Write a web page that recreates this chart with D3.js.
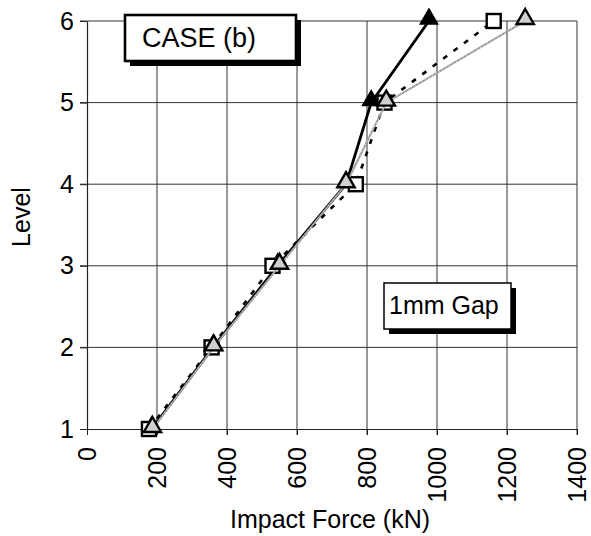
<!DOCTYPE html>
<html>
<head>
<meta charset="utf-8">
<script src="https://cdn.jsdelivr.net/npm/d3@7"></script>
<style>
  body { margin: 0; background: #fff; }
  svg { display: block; }
  text { font-family: "Liberation Sans", Arial, sans-serif; fill: #000; }
</style>
</head>
<body>
<svg id="chart" width="591" height="536"></svg>
<script>
// data
const levels = [1, 2, 3, 4, 5, 6];
const solidTri = [185, 360, 545, 740, 812, 977];     // solid line, filled triangles
const openSq = [177, 356, 530, 768, 850, 1162];      // dashed line, open squares
const grayTri = [187, 362, 550, 740, 855, 1252];     // gray line, gray triangles
const xTicks = [0, 200, 400, 600, 800, 1000, 1200, 1400];
const yTicks = [1, 2, 3, 4, 5, 6];

const svg = d3.select("#chart");
const plotL = 87, plotT = 21, plotR = 577, plotB = 429;

const x = d3.scaleLinear().domain([0, 1400]).range([plotL, plotR]);
const y = d3.scaleLinear().domain([1, 6]).range([plotB, plotT]);

// grid
svg.append("g").selectAll("line.v").data(xTicks.slice(1)).join("line")
    .attr("x1", d => x(d)).attr("x2", d => x(d))
    .attr("y1", plotT).attr("y2", plotB + 6)
    .attr("stroke", "#333").attr("stroke-width", 1);
svg.append("g").selectAll("line.h").data(yTicks.slice(1)).join("line")
    .attr("x1", plotL - 7).attr("x2", plotR)
    .attr("y1", d => y(d)).attr("y2", d => y(d))
    .attr("stroke", "#333").attr("stroke-width", 1);

// axes
const xAxis = svg.append("g")
    .attr("transform", `translate(0,${plotB})`)
    .call(d3.axisBottom(x).tickValues(xTicks).tickFormat(d3.format("d"))
      .tickSize(6).tickSizeOuter(0));
xAxis.select(".domain").attr("stroke", "#222").attr("stroke-width", 1.2);
xAxis.selectAll(".tick line").attr("stroke", "#222");
xAxis.selectAll(".tick text")
    .attr("font-size", 25)
    .attr("font-family", "Liberation Sans, Arial, sans-serif")
    .attr("text-anchor", "end")
    .attr("transform", "translate(0,18) rotate(-90)")
    .attr("x", 0).attr("y", 0).attr("dy", "0.35em");

const yAxis = svg.append("g")
    .attr("transform", `translate(${plotL},0)`)
    .call(d3.axisLeft(y).tickValues(yTicks).tickFormat(d3.format("d"))
      .tickSize(7).tickSizeOuter(0).tickPadding(6));
yAxis.select(".domain").attr("stroke", "#222").attr("stroke-width", 1.2);
yAxis.selectAll(".tick line").attr("stroke", "#222");
yAxis.selectAll(".tick text")
    .attr("font-size", 25)
    .attr("font-family", "Liberation Sans, Arial, sans-serif");

// axis titles
svg.append("text")
    .attr("x", (plotL + plotR) / 2 - 2).attr("y", 528)
    .attr("text-anchor", "middle").attr("font-size", 25)
    .text("Impact Force (kN)");
svg.append("text")
    .attr("transform", "translate(30,217) rotate(-90)")
    .attr("text-anchor", "middle").attr("font-size", 25)
    .text("Level");

// series
const line = d3.line().x(d => x(d[0])).y(d => y(d[1]));
const tri = d3.symbol().type(d3.symbolTriangle).size(130);

const pts = arr => arr.map((v, i) => [v, levels[i]]);

// solid line with filled triangles
svg.append("path").datum(pts(solidTri)).attr("d", line)
    .attr("fill", "none").attr("stroke", "#000").attr("stroke-width", 2.8);
svg.append("g").selectAll("path").data(pts(solidTri)).join("path")
    .attr("d", tri)
    .attr("transform", d => `translate(${x(d[0])},${y(d[1]) - 2})`)
    .attr("fill", "#000").attr("stroke", "#000").attr("stroke-width", 1.5);

// dashed line with open squares
svg.append("path").datum(pts(openSq)).attr("d", line)
    .attr("fill", "none").attr("stroke", "#000").attr("stroke-width", 2.6)
    .attr("stroke-dasharray", "5,8");
svg.append("g").selectAll("rect").data(pts(openSq)).join("rect")
    .attr("x", d => x(d[0]) - 7).attr("y", d => y(d[1]) - 7)
    .attr("width", 14).attr("height", 14)
    .attr("fill", "#fff").attr("stroke", "#000").attr("stroke-width", 2.4);

// gray line with gray triangles
svg.append("path").datum(pts(grayTri)).attr("d", line)
    .attr("fill", "none").attr("stroke", "#999").attr("stroke-width", 2);
svg.append("path").datum(pts(grayTri)).attr("d", line)
    .attr("fill", "none").attr("stroke", "#eee").attr("stroke-width", 1)
    .attr("stroke-dasharray", "1,3");
svg.append("g").selectAll("path").data(pts(grayTri)).join("path")
    .attr("d", tri)
    .attr("transform", d => `translate(${x(d[0])},${y(d[1]) - 2})`)
    .attr("fill", "#cfcfcf").attr("stroke", "#000").attr("stroke-width", 2.4);

// annotation boxes
function box(bx, by, bw, bh, sw, label, font, size, tx, ty) {
  svg.append("rect").attr("x", bx + 5).attr("y", by + 5)
      .attr("width", bw).attr("height", bh).attr("fill", "#000");
  svg.append("rect").attr("x", bx).attr("y", by)
      .attr("width", bw).attr("height", bh)
      .attr("fill", "#fff").attr("stroke", "#000").attr("stroke-width", sw);
  svg.append("text").attr("x", tx).attr("y", ty)
      .attr("font-family", font).attr("font-size", size).text(label);
}
box(125, 15, 171, 46, 2.6, "CASE (b)", "Liberation Serif, Times New Roman, serif", 27, 142, 47);
box(384, 283, 127, 46, 1.5, "1mm Gap", "Liberation Sans, Arial, sans-serif", 25, 389, 314);
</script>
</body>
</html>
